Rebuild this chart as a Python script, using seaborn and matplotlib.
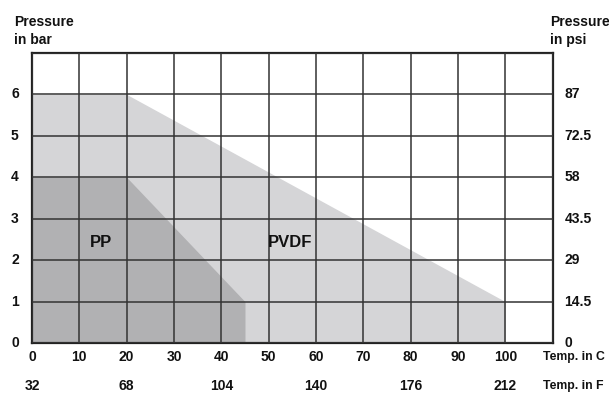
import matplotlib
matplotlib.use("Agg")
import matplotlib.pyplot as plt
import seaborn as sns
import pandas as pd

# data
temp_c = [0, 10, 20, 30, 40, 50, 60, 70, 80, 90, 100]
temp_f = [32, 68, 104, 140, 176, 212]
temp_f_pos = [0, 20, 40, 60, 80, 100]
bar_ticks = [0, 1, 2, 3, 4, 5, 6]
psi_labels = ["0", "14.5", "29", "43.5", "58", "72.5", "87"]

pvdf_t = [0, 20, 100]
pvdf_p = [6, 6, 1]
pp_t = [0, 20, 45]
pp_p = [4, 4, 1]

pvdf = pd.DataFrame({"t": pvdf_t, "p": pvdf_p})
pp = pd.DataFrame({"t": pp_t, "p": pp_p})

sns.set_style("white")
plt.rcParams["font.family"] = ["Liberation Sans", "DejaVu Sans"]
plt.rcParams["font.weight"] = "bold"
plt.rcParams["text.color"] = "#111111"

fig = plt.figure(figsize=(6.09, 3.98), dpi=100)
ax = fig.add_axes([0.0525, 0.138, 0.855, 0.729])

# areas
ax.fill_between(pvdf["t"], pvdf["p"], 0, color="#d5d5d7", lw=0, zorder=1)
ax.fill_between(pp["t"], pp["p"], 0, color="#b1b1b3", lw=0, zorder=2)
sns.lineplot(data=pvdf, x="t", y="p", ax=ax, lw=0, zorder=1)

ax.set_xlim(0, 110)
ax.set_ylim(0, 7)
ax.set_xticks(range(0, 111, 10))
ax.set_yticks(range(0, 8))
ax.grid(True, color="#333333", lw=1.1, zorder=3)
ax.set_axisbelow(False)
for s in ax.spines.values():
    s.set_color("#222222")
    s.set_linewidth(1.6)
ax.tick_params(length=0, labelbottom=False, labelleft=False)
ax.set_xlabel("")
ax.set_ylabel("")

fs = 10
kw = dict(fontsize=fs, fontweight="bold")
# left y labels
for v in bar_ticks:
    ax.text(-3.6, v, str(v), ha="center", va="center", **kw)
# right psi labels
for v, lab in zip(bar_ticks, psi_labels):
    ax.text(112.5, v, lab, ha="left", va="center", **kw)
# bottom C labels
for c in temp_c:
    ax.text(c, -0.33, str(c), ha="center", va="center", **kw)
ax.text(108.0, -0.33, "Temp. in C", ha="left", va="center", fontsize=8.8, fontweight="bold")
# F labels
for pos, f in zip(temp_f_pos, temp_f):
    ax.text(pos, -1.03, str(f), ha="center", va="center", **kw)
ax.text(108.0, -1.03, "Temp. in F", ha="left", va="center", fontsize=8.8, fontweight="bold")

# axis titles
fig.text(14 / 609, 1 - 31 / 398, "Pressure\nin bar", ha="left", va="center",
         linespacing=1.45, **kw)
fig.text(550 / 609, 1 - 31 / 398, "Pressure\nin psi", ha="left", va="center",
         linespacing=1.45, **kw)

# region labels
ax.text(14.5, 2.42, "PP", ha="center", va="center", fontsize=12, fontweight="bold")
ax.text(54.5, 2.42, "PVDF", ha="center", va="center", fontsize=12, fontweight="bold")

fig.savefig("out.png", dpi=100)
